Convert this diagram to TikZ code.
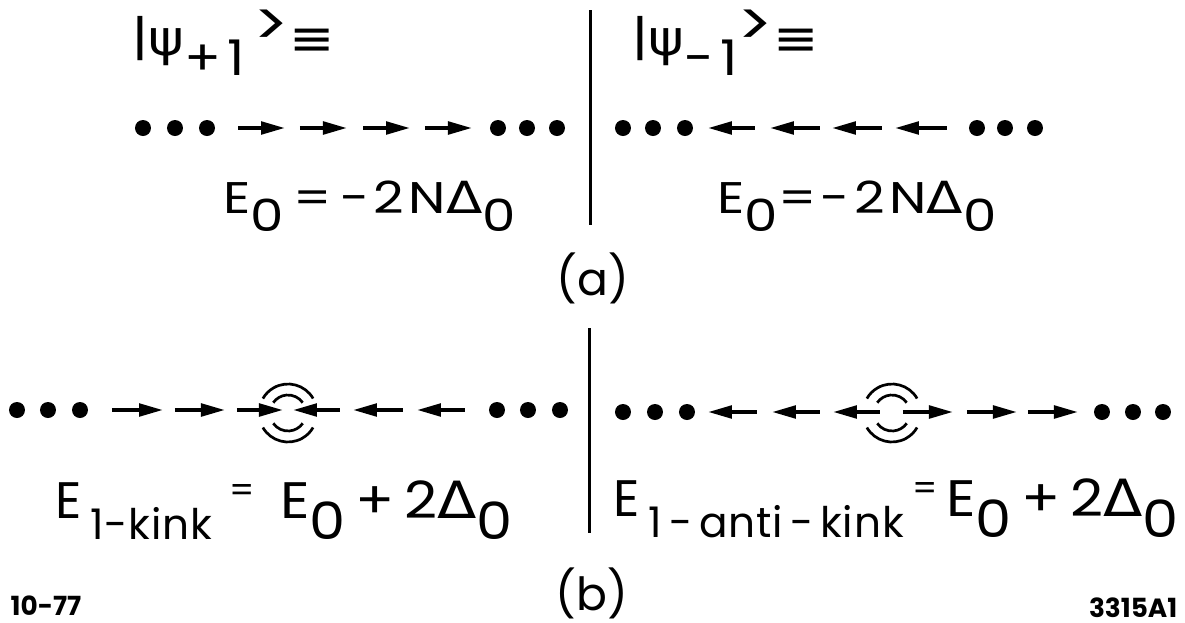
\documentclass[tikz,border=0pt]{standalone}
\usepackage{fontspec}
\usepackage{graphicx}
\setmainfont{Poppins}
\newfontfamily\grk[LetterSpace=10]{DejaVu Sans}
\usepackage{tikz}
\usetikzlibrary{arrows.meta}

\newcommand{\low}[1]{\raisebox{-0.42em}{#1}}
\newcommand{\wider}[2][1.2]{\scalebox{#1}[1]{#2}}

\begin{document}
\begin{tikzpicture}[
    spin/.style={-{Triangle[length=2.4mm, width=1.25mm]}, line width=0.038cm},
    dot/.style={circle, fill, inner sep=0pt, minimum size=0.16cm},
    divider/.style={line width=0.03cm},
    wave/.style={line width=0.027cm},
    state/.style={anchor=base west, inner sep=0pt, font=\fontsize{14}{16}\selectfont\addfontfeature{LetterSpace=12}},
    energy/.style={anchor=base west, inner sep=0pt, font=\fontsize{12.6}{15}\selectfont\addfontfeature{LetterSpace=8}},
    kinkE/.style={anchor=base west, inner sep=0pt, font=\fontsize{14.6}{17}\selectfont\addfontfeature{LetterSpace=10}},
    tag/.style={inner sep=0pt, font=\fontsize{13}{16}\selectfont},
    stamp/.style={inner sep=0pt, font=\bfseries\fontsize{7.5}{8}\selectfont},
]
\useasboundingbox (0,0) rectangle (11.85,-6.23);

\draw[divider] (5.91,-0.10) -- (5.91,-2.25);
\draw[divider] (5.90,-3.28) -- (5.90,-5.33);

\node[state] (psiplus) at (1.32,-0.55) {\wider[1.1]{|{\grk ψ}\low{+1}\,\raisebox{0.2em}{\fontsize{17}{17}\selectfont >}{\grk ≡}}};
\node[state] (psiminus) at (6.32,-0.55) {\wider[1.1]{|{\grk ψ}\low{-1}\raisebox{0.2em}{\fontsize{17}{17}\selectfont >}{\grk ≡}}};

\foreach \x [count=\i] in {1.43,1.75,2.07,4.98,5.27,5.57}
  \node[dot] (ul\i) at (\x,-1.28) {};
\foreach \x [count=\i] in {6.23,6.53,6.85,9.77,10.05,10.35}
  \node[dot] (ur\i) at (\x,-1.28) {};
\foreach \a/\b in {2.38/2.85, 3.00/3.47, 3.63/4.10, 4.25/4.72}
  \draw[spin] (\a,-1.28) -- (\b,-1.28);
\foreach \a/\b in {7.55/7.08, 8.20/7.70, 8.82/8.32, 9.47/8.95}
  \draw[spin] (\a,-1.28) -- (\b,-1.28);

\node[energy] (eleft) at (2.23,-2.13) {\wider{E\low{0}\,=\,-2N{\grk Δ}\low{0}}};
\node[energy] (eright) at (7.17,-2.13) {\wider{E\low{0}=-2N{\grk Δ}\low{0}}};

\node[tag] (taga) at (5.93,-2.78) {(a)};

\foreach \x [count=\i] in {0.17,0.48,0.80,4.97,5.28,5.60}
  \node[dot] (ll\i) at (\x,-4.10) {};
\foreach \x [count=\i] in {6.23,6.55,6.87,11.02,11.33,11.63}
  \node[dot] (lr\i) at (\x,-4.12) {};
\foreach \a/\b in {1.12/1.63, 1.75/2.25, 2.37/2.83, 3.40/2.93, 4.03/3.53, 4.65/4.17}
  \draw[spin] (\a,-4.10) -- (\b,-4.10);
\foreach \a/\b in {7.57/7.08, 8.20/7.72, 8.80/8.33, 9.03/9.53, 9.67/10.17, 10.28/10.78}
  \draw[spin] (\a,-4.12) -- (\b,-4.12);

\coordinate (kink) at (2.88,-4.13);
\coordinate (akink) at (8.92,-4.13);
\foreach \c in {kink, akink} {
  \draw[wave] (\c) ++(30:0.29) arc[start angle=30, end angle=150, radius=0.29];
  \draw[wave] (\c) ++(35:0.18) arc[start angle=35, end angle=145, radius=0.18];
  \draw[wave] (\c) ++(210:0.29) arc[start angle=210, end angle=330, radius=0.29];
  \draw[wave] (\c) ++(215:0.18) arc[start angle=215, end angle=325, radius=0.18];
}

\node[kinkE] (ekink) at (0.55,-5.18) {E\,\low{\fontsize{12}{14}\selectfont\addfontfeature{LetterSpace=2}1-kink}\,\,\raisebox{0.3em}{\fontsize{10}{12}\selectfont =}\,\,\,\wider[1.12]{E\low{0}\,+\,2{\grk Δ}\low{0}}};
\node[kinkE] (eakink) at (6.13,-5.16) {E\,\low{\fontsize{12}{14}\selectfont\addfontfeature{LetterSpace=2}1\,-\,anti\,-\,kink}\,\raisebox{0.3em}{\fontsize{10}{12}\selectfont =}\,\wider[1.12]{E\low{0}\,+\,2{\grk Δ}\low{0}}};

\node[tag] (tagb) at (5.92,-5.93) {(b)};

\node[stamp, anchor=base west] (date) at (0.10,-6.15) {10-77};
\node[stamp, anchor=base east] (fignum) at (11.78,-6.17) {3315A1};
\end{tikzpicture}
\end{document}
